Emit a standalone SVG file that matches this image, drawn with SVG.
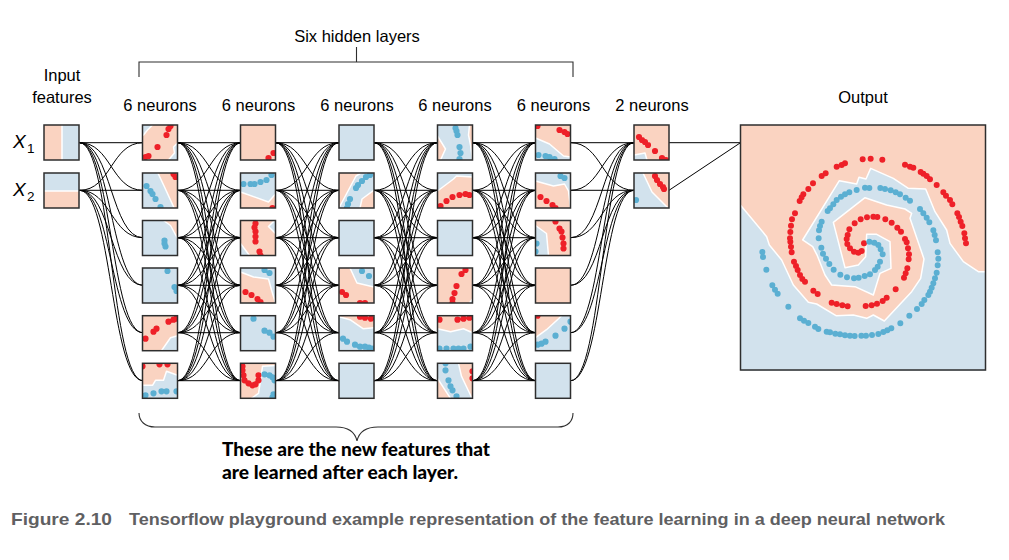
<svg xmlns="http://www.w3.org/2000/svg" width="1009" height="560" viewBox="0 0 1009 560">
<style>
.bg{fill:#fff}
.o{fill:#fad3c1}
.b{fill:#d2e2ed}
.bo{fill:#d2e2ed;stroke:#fff;stroke-width:1.5;stroke-linejoin:round}
.oo{fill:#fad3c1;stroke:#fff;stroke-width:1.5;stroke-linejoin:round}
.r{fill:none;stroke:#ee2028;stroke-width:6.2;stroke-linecap:round}
.u{fill:none;stroke:#5bafd2;stroke-width:6.2;stroke-linecap:round}
.f{fill:none;stroke:#2e2e2e;stroke-width:1.5}
defs path,.c path,.c line{fill:none;stroke:#000;stroke-width:1}
.br{fill:none;stroke:#2e2e2e;stroke-width:1.1}
.t{font-family:"Liberation Sans",Arial,sans-serif;font-size:16.5px;fill:#000;text-anchor:middle}
.x{font-family:"Liberation Sans",Arial,sans-serif;font-style:italic;font-size:19px;fill:#000}
.s{font-family:"Liberation Sans",Arial,sans-serif;font-size:13.5px;fill:#000}
.n{font-family:Lato,"Liberation Sans",sans-serif;font-weight:900;font-size:18.5px;fill:#000}
.k{font-family:"Liberation Sans",Arial,sans-serif;font-weight:700;font-size:17px;fill:#5f6062}
</style>
<defs>
<clipPath id="t"><rect width="35" height="35"/></clipPath>
<clipPath id="tout"><rect x="33" y="32" width="735" height="735"/></clipPath>
<g id="r1"><path d="M0 142.7H63.5"/><path d="M0 142.7C31.7 142.7 31.7 190.3 63.5 190.3"/><path d="M0 142.7C31.7 142.7 31.7 237.7 63.5 237.7"/><path d="M0 142.7C31.7 142.7 31.7 285.3 63.5 285.3"/><path d="M0 142.7C31.7 142.7 31.7 332.7 63.5 332.7"/><path d="M0 142.7C31.7 142.7 31.7 380.7 63.5 380.7"/></g>
<g id="r2"><path d="M0 190.3C31.7 190.3 31.7 142.7 63.5 142.7"/><path d="M0 190.3H63.5"/><path d="M0 190.3C31.7 190.3 31.7 237.7 63.5 237.7"/><path d="M0 190.3C31.7 190.3 31.7 285.3 63.5 285.3"/><path d="M0 190.3C31.7 190.3 31.7 332.7 63.5 332.7"/><path d="M0 190.3C31.7 190.3 31.7 380.7 63.5 380.7"/></g>
<g id="r3"><path d="M0 237.7C31.7 237.7 31.7 142.7 63.5 142.7"/><path d="M0 237.7C31.7 237.7 31.7 190.3 63.5 190.3"/><path d="M0 237.7H63.5"/><path d="M0 237.7C31.7 237.7 31.7 285.3 63.5 285.3"/><path d="M0 237.7C31.7 237.7 31.7 332.7 63.5 332.7"/><path d="M0 237.7C31.7 237.7 31.7 380.7 63.5 380.7"/></g>
<g id="r4"><path d="M0 285.3C31.7 285.3 31.7 142.7 63.5 142.7"/><path d="M0 285.3C31.7 285.3 31.7 190.3 63.5 190.3"/><path d="M0 285.3C31.7 285.3 31.7 237.7 63.5 237.7"/><path d="M0 285.3H63.5"/><path d="M0 285.3C31.7 285.3 31.7 332.7 63.5 332.7"/><path d="M0 285.3C31.7 285.3 31.7 380.7 63.5 380.7"/></g>
<g id="r5"><path d="M0 332.7C31.7 332.7 31.7 142.7 63.5 142.7"/><path d="M0 332.7C31.7 332.7 31.7 190.3 63.5 190.3"/><path d="M0 332.7C31.7 332.7 31.7 237.7 63.5 237.7"/><path d="M0 332.7C31.7 332.7 31.7 285.3 63.5 285.3"/><path d="M0 332.7H63.5"/><path d="M0 332.7C31.7 332.7 31.7 380.7 63.5 380.7"/></g>
<g id="r6"><path d="M0 380.7C31.7 380.7 31.7 142.7 63.5 142.7"/><path d="M0 380.7C31.7 380.7 31.7 190.3 63.5 190.3"/><path d="M0 380.7C31.7 380.7 31.7 237.7 63.5 237.7"/><path d="M0 380.7C31.7 380.7 31.7 285.3 63.5 285.3"/><path d="M0 380.7C31.7 380.7 31.7 332.7 63.5 332.7"/><path d="M0 380.7H63.5"/></g>
<g id="fan"><use href="#r1"/><use href="#r2"/><use href="#r3"/><use href="#r4"/><use href="#r5"/><use href="#r6"/></g>
<g id="to2"><path d="M0 142.7H63.5"/><path d="M0 142.7C31.7 142.7 31.7 190.3 63.5 190.3"/><path d="M0 190.3C31.7 190.3 31.7 142.7 63.5 142.7"/><path d="M0 190.3H63.5"/><path d="M0 237.7C31.7 237.7 31.7 142.7 63.5 142.7"/><path d="M0 237.7C31.7 237.7 31.7 190.3 63.5 190.3"/><path d="M0 285.3C31.7 285.3 31.7 142.7 63.5 142.7"/><path d="M0 285.3C31.7 285.3 31.7 190.3 63.5 190.3"/><path d="M0 332.7C31.7 332.7 31.7 142.7 63.5 142.7"/><path d="M0 332.7C31.7 332.7 31.7 190.3 63.5 190.3"/><path d="M0 380.7C31.7 380.7 31.7 142.7 63.5 142.7"/><path d="M0 380.7C31.7 380.7 31.7 190.3 63.5 190.3"/></g>
</defs>
<rect class="bg" width="1009" height="560"/>

<g id="connectors" class="c">
<use href="#r1" x="79.5"/><use href="#r2" x="79.5"/>
<use href="#fan" x="177.5"/>
<use href="#fan" x="275.5"/>
<use href="#fan" x="374"/>
<use href="#fan" x="472.5"/>
<use href="#to2" x="570.5"/>
<line x1="669" y1="142.7" x2="740.5" y2="142.7"/>
<line x1="669" y1="190.3" x2="740.5" y2="142.7"/>
</g>

<g id="input-1" transform="translate(44 125)"><rect class="o" width="35" height="35"/><g clip-path="url(#t)"><polygon class="bo" points="18,-3 38,-3 38,38 18,38"/></g><rect class="f" width="35" height="35"/></g>
<g id="input-2" transform="translate(44 173)"><rect class="b" width="35" height="35"/><g clip-path="url(#t)"><polygon class="oo" points="-3,18 38,18 38,38 -3,38"/></g><rect class="f" width="35" height="35"/></g>

<g id="n1-1" transform="translate(142.5 125)"><rect class="o" width="35" height="35"/><g clip-path="url(#t)"><polygon class="bo" points="-3,-3 10,-3 10,0 7,3 5,5 1,10 -3,12"/><polygon class="bo" points="38,17 35,18 31,22 32,28 26,35 25,38 38,38"/><path class="r" d="M28 1h0M26 4h0M24 10h0M15 22h0M6 31h0M3 32h0"/></g><rect class="f" width="35" height="35"/></g>
<g id="n1-2" transform="translate(142.5 173)"><rect class="b" width="35" height="35"/><g clip-path="url(#t)"><polygon class="oo" points="14,-3 38,-3 38,38 33,38 22,14"/><path class="r" d="M31 1h0M33 4h0"/><path class="u" d="M4 13h0M8 18h0M10 21h0M13 26h0M18 34h0"/></g><rect class="f" width="35" height="35"/></g>
<g id="n1-3" transform="translate(142.5 220.5)"><rect class="b" width="35" height="35"/><g clip-path="url(#t)"><polygon class="oo" points="20,-3 21,0 28,5 35,18 38,22 38,-3"/><path class="u" d="M22 20h0M22 23h0M23 26h0"/></g><rect class="f" width="35" height="35"/></g>
<g id="n1-4" transform="translate(142.5 268)"><rect class="b" width="35" height="35"/><g clip-path="url(#t)"><path class="u" d="M25 3h0M32 19h0M34 23h0"/></g><rect class="f" width="35" height="35"/></g>
<g id="n1-5" transform="translate(142.5 315.7)"><rect class="o" width="35" height="35"/><g clip-path="url(#t)"><polygon class="bo" points="17,38 19,35 28,22 35,20 38,20 38,38"/><path class="r" d="M3 23h0M11 16h0M14 13h0M26 6h0M31 4h0M34 3h0"/></g><rect class="f" width="35" height="35"/></g>
<g id="n1-6" transform="translate(142.5 363.3)"><rect class="o" width="35" height="35"/><g clip-path="url(#t)"><polygon class="bo" points="-3,22 10,22 13,17 21,17 24,8 35,12 38,13 38,38 -3,38"/><path class="r" d="M0 3h0M17 1h0M25 1h0"/><path class="u" d="M3 32h0M11 30h0M19 28h0M24 28h0M34 28h0"/></g><rect class="f" width="35" height="35"/></g>

<g id="n2-1" transform="translate(240.5 125)"><rect class="o" width="35" height="35"/><g clip-path="url(#t)"><path class="r" d="M33 28h0M28 33h0"/></g><rect class="f" width="35" height="35"/></g>
<g id="n2-2" transform="translate(240.5 173)"><rect class="b" width="35" height="35"/><g clip-path="url(#t)"><polygon class="oo" points="-3,18 0,19 28,29 35,21 38,18 38,38 -3,38"/><path class="u" d="M3 11h0M10 11h0M14 11h0M20 9h0M26 7h0M31 2h0"/><path class="r" d="M32 35h0"/></g><rect class="f" width="35" height="35"/></g>
<g id="n2-3" transform="translate(240.5 220.5)"><rect class="o" width="35" height="35"/><g clip-path="url(#t)"><polygon class="bo" points="36,-3 34,0 28,6 35,13 38,15 38,-3"/><polygon class="bo" points="-3,20 0,23 9,35 11,38 -3,38"/><path class="r" d="M15 3h0M14 7h0M15 11h0M15 16h0M15 21h0M19 31h0M20 35h0"/></g><rect class="f" width="35" height="35"/></g>
<g id="n2-4" transform="translate(240.5 268)"><rect class="b" width="35" height="35"/><g clip-path="url(#t)"><polygon class="oo" points="-3,3 0,4 13,9 28,11 31,22 35,35 36,38 -3,38"/><path class="u" d="M24 2h0M29 5h0"/><path class="r" d="M5 24h0M11 27h0M17 31h0M20 34h0"/></g><rect class="f" width="35" height="35"/></g>
<g id="n2-5" transform="translate(240.5 315.7)"><rect class="b" width="35" height="35"/><g clip-path="url(#t)"><path class="u" d="M13 3h0M24 15h0M29 17h0M33 21h0"/></g><rect class="f" width="35" height="35"/></g>
<g id="n2-6" transform="translate(240.5 363.3)"><rect class="o" width="35" height="35"/><g clip-path="url(#t)"><polygon class="bo" points="38,2 22,3 20,17 18,30 11,35 8,38 38,38"/><path class="r" d="M2 3h0M2 7h0M3 12h0M4 17h0M8 20h0M12 22h0M15 21h0M18 17h0M18 12h0"/><path class="u" d="M24 11h0M29 12h0M32 14h0M34 17h0M33 31h0M32 34h0"/></g><rect class="f" width="35" height="35"/></g>

<g id="n3-1" transform="translate(339 125)"><rect class="b" width="35" height="35"/><rect class="f" width="35" height="35"/></g>
<g id="n3-2" transform="translate(339 173)"><rect class="o" width="35" height="35"/><g clip-path="url(#t)"><polygon class="bo" points="-1,37 1,33 17,3 22,0 24,-3 38,-3 38,15 35,17 23,26 21,35 21,38"/><path class="u" d="M31 2h0M27 4h0M23 8h0M19 12h0M17 15h0M11 26h0M9 31h0M8 35h0"/></g><rect class="f" width="35" height="35"/></g>
<g id="n3-3" transform="translate(339 220.5)"><rect class="b" width="35" height="35"/><rect class="f" width="35" height="35"/></g>
<g id="n3-4" transform="translate(339 268)"><rect class="o" width="35" height="35"/><g clip-path="url(#t)"><polygon class="bo" points="10,-3 11,0 18,15 35,19 38,20 38,-3"/><path class="u" d="M23 3h0M30 8h0"/><path class="r" d="M3 24h0M7 27h0M21 35h0M26 35h0"/></g><rect class="f" width="35" height="35"/></g>
<g id="n3-5" transform="translate(339 315.7)"><rect class="b" width="35" height="35"/><g clip-path="url(#t)"><polygon class="oo" points="-3,0 0,1 11,4 24,13 35,12 38,12 38,-3 -3,-3"/><path class="r" d="M21 1h0M26 2h0M32 3h0"/><path class="u" d="M4 23h0M8 26h0M16 29h0M21 31h0M26 31h0M30 32h0M34 33h0"/></g><rect class="f" width="35" height="35"/></g>
<g id="n3-6" transform="translate(339 363.3)"><rect class="b" width="35" height="35"/><rect class="f" width="35" height="35"/></g>

<g id="n4-1" transform="translate(437.5 125)"><rect class="b" width="35" height="35"/><g clip-path="url(#t)"><polygon class="oo" points="-3,7 0,11 8,24 3,35 2,38 -3,38"/><polygon class="oo" points="33,-3 32,0 31,10 33,20 35,35 35,38 38,38 38,-3"/><path class="u" d="M18 3h0M19 6h0M20 10h0M22 22h0M23 28h0M22 34h0"/></g><rect class="f" width="35" height="35"/></g>
<g id="n4-2" transform="translate(437.5 173)"><rect class="b" width="35" height="35"/><g clip-path="url(#t)"><polygon class="oo" points="-3,20 0,18 16,6 19,3 35,4 38,4 38,38 -3,38"/><path class="r" d="M3 33h0M9 28h0M15 24h0M22 22h0M28 21h0M32 22h0"/></g><rect class="f" width="35" height="35"/></g>
<g id="n4-3" transform="translate(437.5 220.5)"><rect class="b" width="35" height="35"/><rect class="f" width="35" height="35"/></g>
<g id="n4-4" transform="translate(437.5 268)"><rect class="o" width="35" height="35"/><g clip-path="url(#t)"><polygon class="bo" points="38,30 35,31 32,35 30,38 38,38"/><path class="r" d="M28 2h0M24 6h0M19 18h0M17 25h0M15 31h0M15 35h0"/></g><rect class="f" width="35" height="35"/></g>
<g id="n4-5" transform="translate(437.5 315.7)"><rect class="b" width="35" height="35"/><g clip-path="url(#t)"><polygon class="oo" points="-3,12 0,13 13,16 26,13 35,17 38,18 38,-3 -3,-3"/><path class="r" d="M2 4h0M20 4h0M26 3h0M32 2h0"/><path class="u" d="M2 33h0M9 33h0M16 33h0M21 33h0M26 33h0M33 31h0"/></g><rect class="f" width="35" height="35"/></g>
<g id="n4-6" transform="translate(437.5 363.3)"><rect class="b" width="35" height="35"/><g clip-path="url(#t)"><polygon class="oo" points="-3,11 0,15 13,35 15,38 -3,38"/><polygon class="oo" points="20,-3 21,0 24,13 34,34 36,38 38,38 38,-3"/><path class="r" d="M35 8h0M35 15h0"/><path class="u" d="M8 0h0M8 7h0M11 17h0M13 23h0M15 27h0M19 33h0"/></g><rect class="f" width="35" height="35"/></g>

<g id="n5-1" transform="translate(535.5 125)"><rect class="o" width="35" height="35"/><g clip-path="url(#t)"><polygon class="bo" points="-3,12 0,13 14,19 28,31 35,32 38,32 38,38 -3,38"/><path class="r" d="M2 1h0M24 5h0M29 7h0M32 9h0"/><path class="u" d="M3 30h0M10 31h0M14 32h0M19 34h0"/></g><rect class="f" width="35" height="35"/></g>
<g id="n5-2" transform="translate(535.5 173)"><rect class="b" width="35" height="35"/><g clip-path="url(#t)"><polygon class="oo" points="-3,7 0,8 18,13 29,11 33,18 35,35 35,38 -3,38"/><path class="u" d="M25 3h0M29 5h0"/><path class="r" d="M5 24h0M11 28h0M17 32h0M20 35h0"/></g><rect class="f" width="35" height="35"/></g>
<g id="n5-3" transform="translate(535.5 220.5)"><rect class="o" width="35" height="35"/><g clip-path="url(#t)"><polygon class="bo" points="-3,3 0,5 11,13 13,35 13,38 -3,38"/><path class="r" d="M20 1h0M24 8h0M26 11h0M27 17h0M28 23h0M28 28h0"/><path class="u" d="M1 23h0M0 31h0"/></g><rect class="f" width="35" height="35"/></g>
<g id="n5-4" transform="translate(535.5 268)"><rect class="o" width="35" height="35"/><rect class="f" width="35" height="35"/></g>
<g id="n5-5" transform="translate(535.5 315.7)"><rect class="b" width="35" height="35"/><g clip-path="url(#t)"><polygon class="oo" points="-3,24 0,22 11,14 23,3 26,0 29,-3 -3,-3"/><path class="r" d="M2 0h0"/><path class="u" d="M2 29h0M6 28h0M10 26h0M20 20h0M29 13h0M35 6h0"/></g><rect class="f" width="35" height="35"/></g>
<g id="n5-6" transform="translate(535.5 363.3)"><rect class="b" width="35" height="35"/><rect class="f" width="35" height="35"/></g>

<g id="n6-1" transform="translate(634 125)"><rect class="o" width="35" height="35"/><g clip-path="url(#t)"><polygon class="bo" points="-3,30 0,30 11,28 13,35 14,38 -3,38"/><path class="r" d="M5 12h0M8 15h0M11 17h0M14 20h0M21 26h0M28 33h0M32 35h0"/></g><rect class="f" width="35" height="35"/></g>
<g id="n6-2" transform="translate(634 173)"><rect class="b" width="35" height="35"/><g clip-path="url(#t)"><polygon class="oo" points="8,-3 9,0 18,19 34,35 37,38 38,38 38,-3"/><path class="r" d="M21 3h0M23 7h0M26 11h0M29 14h0M30 16h0"/><path class="u" d="M2 27h0"/></g><rect class="f" width="35" height="35"/></g>

<g id="output">
<rect class="o" x="740.5" y="125" width="245" height="245"/>
<g transform="translate(730 115) scale(.33333)">
<g clip-path="url(#tout)">
<polygon style="stroke-width:4.5" class="bo" points="20,258 33,272 110,365 118,390 155,435 190,510 235,562 260,567 318,602 370,600 410,610 430,600 463,618 545,530 572,490 582,432 540,310 545,295 525,282 470,270 405,248 310,322 345,458 385,450 407,425 410,358 440,358 480,380 483,460 450,475 430,540 375,515 305,510 285,480 262,422 248,395 218,375 328,197 380,207 387,187 408,192 422,160 490,190 535,220 587,222 615,290 650,345 660,385 700,440 745,470 780,470 780,780 20,780"/>
<path class="r" style="stroke-width:18" d="M398 133h0M422 131h0M457 134h0M525 149h0M540 155h0M550 158h0M572 171h0M580 176h0M590 183h0M600 193h0M620 210h0M640 232h0M648 242h0M660 255h0M667 268h0M682 295h0M687 306h0M692 320h0M697 333h0M703 355h0M705 370h0M708 385h0M345 145h0M335 150h0M320 155h0M287 175h0M275 183h0M249 205h0M235 222h0M220 238h0M215 247h0M209 258h0M195 295h0M186 313h0M183 332h0M181 351h0M180 370h0M181 380h0M183 395h0M185 412h0M192 440h0M198 453h0M203 465h0M210 480h0M217 492h0M225 500h0M250 527h0M263 537h0M305 563h0M320 567h0M337 571h0M353 574h0M407 573h0M425 571h0M441 566h0M458 558h0M470 548h0M497 523h0M522 488h0M527 475h0M532 460h0M536 433h0M537 418h0M534 400h0M530 382h0M525 372h0M513 350h0M502 338h0M485 323h0M466 313h0M442 306h0M430 305h0M411 307h0M392 313h0M374 325h0M358 343h0M353 360h0M350 372h0M352 387h0M360 400h0M372 410h0M385 413h0M395 408h0M402 385h0"/>
<path class="u" style="stroke-width:18" d="M418 380h0M433 383h0M445 390h0M452 403h0M458 418h0M450 440h0M443 455h0M435 465h0M420 478h0M404 483h0M386 488h0M372 490h0M351 487h0M331 479h0M311 464h0M298 447h0M288 431h0M279 416h0M274 398h0M266 370h0M267 346h0M270 333h0M275 320h0M293 288h0M300 280h0M310 268h0M320 255h0M333 245h0M345 238h0M358 232h0M380 225h0M405 218h0M418 219h0M451 219h0M465 222h0M482 226h0M497 232h0M510 238h0M527 248h0M540 257h0M570 282h0M580 295h0M590 308h0M598 322h0M610 346h0M614 360h0M618 376h0M623 412h0M625 431h0M623 451h0M620 473h0M615 490h0M610 505h0M605 518h0M600 530h0M595 540h0M583 555h0M575 567h0M561 582h0M538 602h0M511 625h0M484 640h0M472 646h0M460 651h0M445 657h0M426 660h0M408 662h0M394 662h0M374 663h0M360 662h0M345 661h0M330 658h0M316 656h0M300 652h0M290 650h0M265 642h0M255 635h0M235 624h0M222 617h0M210 610h0M175 575h0M143 536h0M135 524h0M127 511h0M109 464h0M99 426h0M97 411h0"/>
</g>
</g>
<rect class="f" x="740.5" y="125" width="245" height="245"/>
</g>

<path id="bracket" class="br" d="M139 77V62H573V77M356.500 47V62"/>
<path id="brace" class="br" d="M139 413C139 421 145 427 155 427H336C348 427 355 432 357 441C359 432 366 427 378 427H558C568 427 573 421 573 413"/>

<g id="labels">
<text class="t" x="357" y="42">Six hidden layers</text>
<text class="t" x="62" y="81">Input</text>
<text class="t" x="62" y="103">features</text>
<text class="t" x="160" y="111">6 neurons</text>
<text class="t" x="258.500" y="111">6 neurons</text>
<text class="t" x="357" y="111">6 neurons</text>
<text class="t" x="455" y="111">6 neurons</text>
<text class="t" x="553.500" y="111">6 neurons</text>
<text class="t" x="652" y="111">2 neurons</text>
<text class="t" x="863" y="103">Output</text>
<text class="x" x="13" y="148">X</text><text class="s" x="27" y="152.500">1</text>
<text class="x" x="13" y="196">X</text><text class="s" x="27" y="200.500">2</text>
<text class="n" x="222" y="456" textLength="268" lengthAdjust="spacingAndGlyphs">These are the new features that</text>
<text class="n" x="222" y="479" textLength="236" lengthAdjust="spacingAndGlyphs">are learned after each layer.</text>
<text class="k" x="11" y="525" textLength="101" lengthAdjust="spacingAndGlyphs">Figure 2.10</text>
<text class="k" x="129" y="525" textLength="816" lengthAdjust="spacingAndGlyphs">Tensorflow playground example representation of the feature learning in a deep neural network</text>
</g>
</svg>
